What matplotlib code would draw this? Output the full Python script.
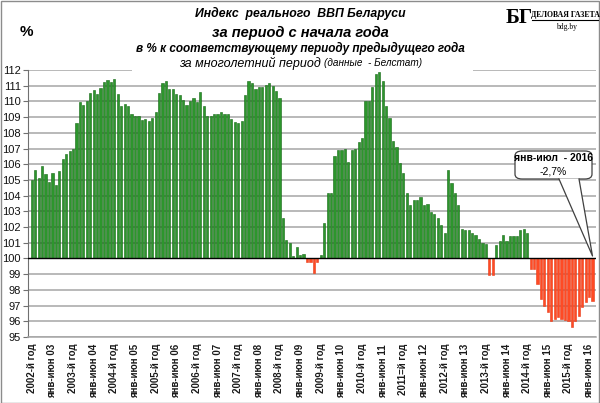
import numpy as np
import matplotlib.pyplot as plt
from matplotlib.patches import FancyBboxPatch, Polygon, Rectangle

plt.rcParams['font.family'] = ['Liberation Sans', 'DejaVu Sans']

# cumulative GDP index, % of same period of previous year
gdp_2002 = [105.0]
gdp_2003 = [105.65, 105.1, 105.9, 105.4, 104.85, 105.45, 104.7, 105.6, 106.35, 106.65, 106.85, 107.0]
gdp_2004 = [108.6, 109.95, 109.8, 110.05, 110.55, 110.75, 110.45, 110.85, 111.25, 111.35, 111.25, 111.4]
gdp_2005 = [110.45, 109.7, 109.85, 109.7, 109.2, 109.05, 109.05, 108.8, 108.9, 108.75, 108.95, 109.35]
gdp_2006 = [110.55, 111.15, 111.3, 110.8, 110.8, 110.5, 110.4, 110.1, 109.8, 110.05, 110.2, 109.95]
gdp_2007 = [110.6, 109.7, 109.1, 109.1, 109.2, 109.2, 109.3, 109.2, 109.2, 108.9, 108.7, 108.6]
gdp_2008 = [108.75, 110.4, 111.3, 111.15, 110.8, 110.9, 110.9, 111.05, 111.15, 110.95, 110.65, 110.2]
gdp_2009 = [102.55, 101.2, 101.0, 100.15, 100.7, 100.25, 100.3, 99.75, 99.8, 99.05, 99.75, 100.2]
gdp_2010 = [102.25, 104.2, 104.2, 106.5, 106.9, 106.9, 107.0, 106.15, 106.9, 107.0, 107.4, 107.65]
gdp_2011 = [110.05, 110.05, 110.9, 111.75, 111.85, 111.3, 109.7, 108.95, 107.5, 107.1, 106.05, 105.45]
gdp_2012 = [104.2, 103.4, 103.7, 103.7, 103.9, 103.4, 103.5, 102.95, 102.8, 102.6, 102.1, 101.65]
gdp_2013 = [105.65, 104.8, 104.2, 103.4, 101.9, 101.8, 101.8, 101.65, 101.5, 101.25, 101.0, 100.9]
gdp_2014 = [98.95, 98.95, 100.85, 101.1, 101.5, 101.1, 101.4, 101.45, 101.45, 101.8, 101.85, 101.65]
gdp_2015 = [99.3, 99.3, 98.4, 97.4, 96.95, 96.6, 96.0, 96.15, 96.25, 96.15, 96.1, 96.0]
gdp_2016 = [95.65, 96.05, 96.35, 96.9, 97.2, 97.55, 97.3]

tick_labels = ['2002-й год', 'янв-июн 03', '2003-й год', 'янв-июн 04', '2004-й год',
               'янв-июн 05', '2005-й год', 'янв-июн 06', '2006-й год', 'янв-июн 07',
               '2007-й год', 'янв-июн 08', '2008-й год', 'янв-июн 09', '2009-й год',
               'янв-июн 10', '2010-й год', 'янв-июн 11', '2011=й год', 'янв-июн 12',
               '2012-й год', 'янв-июн 13', '2013-й год', 'янв-июн 14', '2014-й год',
               'янв-июн 15', '2015-й год', 'янв-июн 16']

values = np.array(gdp_2002 + gdp_2003 + gdp_2004 + gdp_2005 + gdp_2006 + gdp_2007 + gdp_2008
                  + gdp_2009 + gdp_2010 + gdp_2011 + gdp_2012 + gdp_2013 + gdp_2014
                  + gdp_2015 + gdp_2016)
x = np.arange(len(values))

fig = plt.figure(figsize=(6, 4.03), dpi=100)
ax = fig.add_axes([28 / 600, 1 - 337 / 403, 568 / 600, 267 / 403])

# grid lines (112 is broken by the title)
for y in range(95, 112):
    if y != 100:
        ax.axhline(y, color='#a6a6a6', lw=1.1, zorder=1)
ax.hlines(112, -1.1, 29.2, color='#a6a6a6', lw=1.1, zorder=1)
ax.hlines(112, 128.3, 164.0, color='#a6a6a6', lw=1.1, zorder=1)

colors = np.where(values >= 100, '#2c962c', '#ff4a24')
edges = np.where(values >= 100, '#126612', '#e63a18')
ax.bar(x, values - 100, bottom=100, width=0.64, color=colors, edgecolor=edges,
       linewidth=0.4, zorder=2)
ax.axhline(100, color='black', lw=1.0, zorder=3)

ax.set_xlim(-1.1, 164.0)
ax.set_ylim(95, 112)
ax.set_yticks(range(95, 113))
ax.set_xticks(np.arange(0, len(values), 6))
ax.set_xticklabels(tick_labels, rotation=90, fontsize=7, fontweight='bold', color='#1a1a1a')
ax.tick_params(axis='x', length=0, pad=5)
ax.tick_params(axis='y', labelsize=8, length=3.5, pad=1.5, color='#707070', labelcolor='#111111')
for s in ['top', 'right']:
    ax.spines[s].set_visible(False)
ax.spines['left'].set_color('#707070')
ax.spines['bottom'].set_color('#a6a6a6')
ax.spines['bottom'].set_linewidth(1.1)

# titles
cx = 300 / 600
fig.text(cx, 1 - 13 / 403, 'Индекс  реального  ВВП Беларуси', ha='center', va='center',
         fontsize=8.8, fontweight='bold', style='italic')
fig.text(cx, 1 - 33 / 403, 'за период с начала года', ha='center', va='center',
         fontsize=10.5, fontweight='bold', style='italic')
fig.text(cx, 1 - 48 / 403, 'в % к соответствующему периоду предыдущего года', ha='center',
         va='center', fontsize=8.5, fontweight='bold', style='italic')
fig.text(321 / 600, 1 - 63 / 403, 'за многолетний период', ha='right', va='center',
         fontsize=9, style='italic')
fig.text(324 / 600, 1 - 63 / 403, '(данные  - Белстат)', ha='left', va='center',
         fontsize=7.2, style='italic')
fig.text(26 / 600, 1 - 32 / 403, '%', ha='center', va='center', fontsize=11, fontweight='bold')

# logo
fig.text(519 / 600, 1 - 18 / 403, 'БГ', ha='center', va='center', fontsize=15,
         fontweight='bold', family=['Liberation Serif', 'DejaVu Serif'])
fig.text(565 / 600, 1 - 15 / 403, 'ДЕЛОВАЯ ГАЗЕТА', ha='center', va='center', fontsize=5.6,
         fontweight='bold', family=['Liberation Serif', 'DejaVu Serif'])
fig.add_artist(plt.Line2D([532 / 600, 598 / 600], [1 - 20 / 403, 1 - 20 / 403],
                          color='black', lw=0.8))
fig.text(567 / 600, 1 - 27 / 403, 'bdg.by', ha='center', va='center', fontsize=5.5,
         family=['Liberation Serif', 'DejaVu Serif'])


# callout
def fx(px):
    return px / 600


def fy(py):
    return 1 - py / 403


box = FancyBboxPatch((fx(515), fy(179)), fx(592) - fx(515), fy(151) - fy(179),
                     boxstyle='round,pad=0,rounding_size=0.012', transform=fig.transFigure,
                     facecolor='white', edgecolor='#404040', lw=0.9, zorder=5)
fig.add_artist(box)
wedge = Polygon([(fx(559), fy(178.5)), (fx(592.5), fy(256)), (fx(579), fy(178.5))],
                closed=True, transform=fig.transFigure, facecolor='white',
                edgecolor='none', zorder=6)
fig.add_artist(wedge)
fig.add_artist(plt.Line2D([fx(559), fx(592.5), fx(579)], [fy(179), fy(256), fy(179)],
                          color='#404040', lw=0.9, zorder=7))
fig.text(fx(553), fy(158), 'янв-июл  - 2016', ha='center', va='center', fontsize=7.5,
         fontweight='bold', zorder=8)
fig.text(fx(553), fy(172), '-2,7%', ha='center', va='center', fontsize=7.5, zorder=8)

# outer border
fig.add_artist(Rectangle((0.001, 0.001), 0.997, 0.997, transform=fig.transFigure,
                         fill=False, edgecolor='#8c8c8c', lw=1.0))

fig.savefig('out.png', dpi=100)
